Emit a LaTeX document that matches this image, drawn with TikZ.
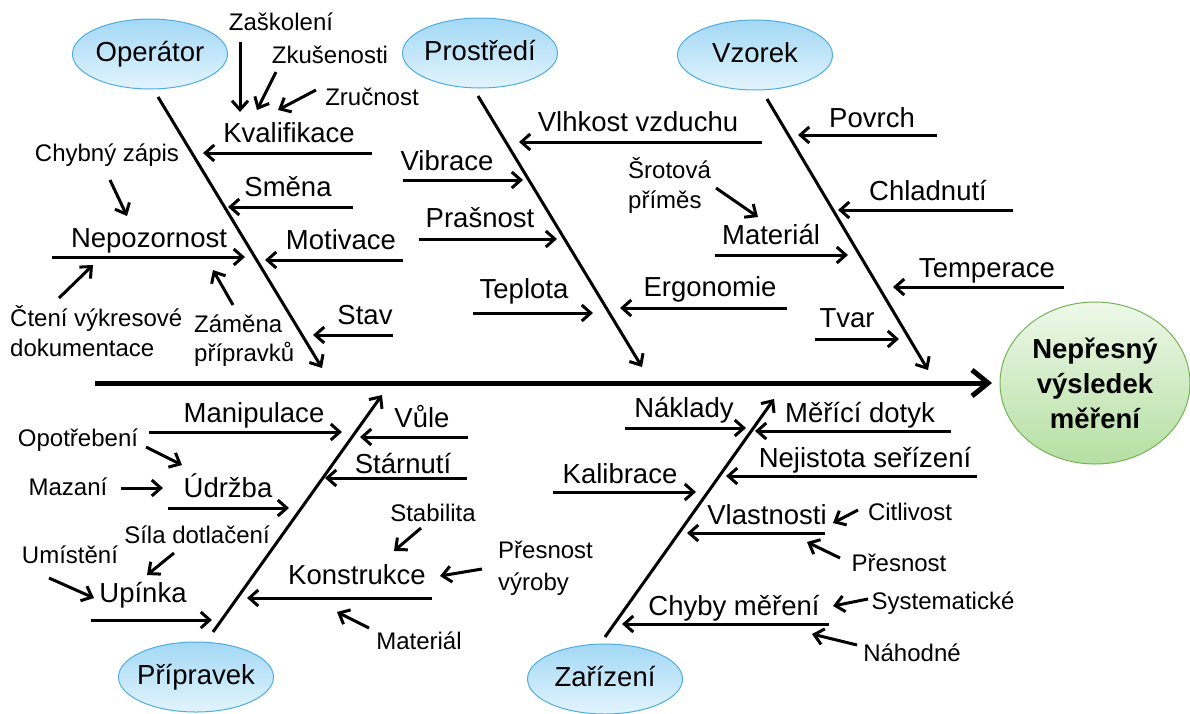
\documentclass[tikz,border=0pt]{standalone}
\usepackage{fontspec}
\setmainfont{Liberation Sans}
\usetikzlibrary{arrows.meta,shapes.geometric}
\definecolor{bluetop}{HTML}{A3D8F5}
\definecolor{bluebot}{HTML}{E2F4FD}
\definecolor{blueborder}{HTML}{4FAEE0}
\definecolor{greentop}{HTML}{EEF8E9}
\definecolor{greenbot}{HTML}{B5DFA2}
\definecolor{greenborder}{HTML}{74B456}
\begin{document}
\begin{tikzpicture}[x=1pt,y=-1pt,
  big/.style={font=\fontsize{27.5}{33}\selectfont, inner sep=0pt, text height=19.7pt, text depth=0pt},
  small/.style={font=\fontsize{24}{30}\selectfont, inner sep=0pt, text height=17.2pt, text depth=0pt},
  arr/.style={line width=3pt, -{Straight Barb[length=9pt,width=16pt]}},
  spine/.style={line width=5pt, -{Straight Barb[length=16pt,width=26pt]}},
  cat/.style={ellipse, draw=blueborder, line width=1pt, top color=bluetop, bottom color=bluebot,
    minimum width=155pt, minimum height=70pt, inner xsep=-30pt, inner ysep=0pt,
    font=\fontsize{27.5}{33}\selectfont, text height=19.7pt, text depth=4pt},
  effect/.style={ellipse, draw=greenborder, line width=1pt, top color=greentop, bottom color=greenbot,
    minimum width=190pt, minimum height=162pt, inner xsep=-40pt, inner ysep=-30pt,
    font=\fontsize{27.5}{35}\bfseries\selectfont, align=center}
]
\useasboundingbox (0,0) rectangle (1190,713);
\fill[white] (0,0) rectangle (1190,713);

% ---------- main spine and effect ----------
\coordinate (sp1) at (95,383);
\coordinate (sp2) at (992,383);
\draw[spine] (sp1) -- (sp2);
\node[effect] (eff) at (1095,383) {Nepřesný\\výsledek\\měření};

% ---------- Operator ----------
\node[cat] (oper) at (150,54) {Operátor};
\coordinate (ob1) at (158,97); \coordinate (ob2) at (322,368);
\draw[arr] (ob1) -- (ob2);

\node[big] (kval) at (289,133) {Kvalifikace};
\coordinate (kv1) at (372,153); \coordinate (kv2) at (203,153);
\draw[arr] (kv1) -- (kv2);
\node[small] (zask) at (281,22) {Zaškolení};
\coordinate (za1) at (240,42); \coordinate (za2) at (240,112);
\draw[arr] (za1) -- (za2);
\node[small] (zkus) at (330,55) {Zkušenosti};
\coordinate (zk1) at (276,72); \coordinate (zk2) at (257,110);
\draw[arr] (zk1) -- (zk2);
\node[small] (zruc) at (372,97) {Zručnost};
\coordinate (zr1) at (316,90); \coordinate (zr2) at (278,110);
\draw[arr] (zr1) -- (zr2);

\node[small] (chyb) at (107,153) {Chybný zápis};
\coordinate (ch1) at (110,180); \coordinate (ch2) at (127,216);
\draw[arr] (ch1) -- (ch2);
\node[big] (smena) at (288,187) {Směna};
\coordinate (sm1) at (353,207); \coordinate (sm2) at (228,207);
\draw[arr] (sm1) -- (sm2);
\node[big] (nepoz) at (149,238) {Nepozornost};
\coordinate (ne1) at (52,257); \coordinate (ne2) at (245,257);
\draw[arr] (ne1) -- (ne2);
\node[big] (motiv) at (341,240) {Motivace};
\coordinate (mo1) at (403,260); \coordinate (mo2) at (265,260);
\draw[arr] (mo1) -- (mo2);
\node[small, anchor=west] (cteni) at (10,318) {Čtení výkresové};
\node[small, anchor=west] (cteni2) at (10,348) {dokumentace};
\coordinate (ct1) at (59,298); \coordinate (ct2) at (93,265);
\draw[arr] (ct1) -- (ct2);
\node[small, anchor=west] (zamena) at (194,324) {Záměna};
\node[small, anchor=west] (zamena2) at (194,353) {přípravků};
\coordinate (zm1) at (233,305); \coordinate (zm2) at (213,270);
\draw[arr] (zm1) -- (zm2);
\node[big] (stav) at (365,315) {Stav};
\coordinate (st1) at (393,335); \coordinate (st2) at (313,335);
\draw[arr] (st1) -- (st2);

% ---------- Prostredi ----------
\node[cat] (prost) at (480,53) {Prostředí};
\coordinate (pb1) at (478,96); \coordinate (pb2) at (642,367);
\draw[arr] (pb1) -- (pb2);
\node[big] (vlhk) at (638,122) {Vlhkost vzduchu};
\coordinate (vl1) at (762,142); \coordinate (vl2) at (519,142);
\draw[arr] (vl1) -- (vl2);
\node[big] (vibr) at (447,161) {Vibrace};
\coordinate (vi1) at (403,180); \coordinate (vi2) at (523,180);
\draw[arr] (vi1) -- (vi2);
\node[big] (prasn) at (480,218) {Prašnost};
\coordinate (pr1) at (419,239); \coordinate (pr2) at (557,239);
\draw[arr] (pr1) -- (pr2);
\node[big] (tepl) at (524,289) {Teplota};
\coordinate (te1) at (473,313); \coordinate (te2) at (593,313);
\draw[arr] (te1) -- (te2);
\node[big] (ergo) at (710,287) {Ergonomie};
\coordinate (er1) at (787,308); \coordinate (er2) at (620,308);
\draw[arr] (er1) -- (er2);
\node[small, anchor=west] (srot) at (628,170) {Šrotová};
\node[small, anchor=west] (srot2) at (628,200) {příměs};
\coordinate (sr1) at (716,188); \coordinate (sr2) at (758,217);
\draw[arr] (sr1) -- (sr2);
\node[big] (mater) at (771,235) {Materiál};
\coordinate (ma1) at (715,255); \coordinate (ma2) at (848,255);
\draw[arr] (ma1) -- (ma2);

% ---------- Vzorek ----------
\node[cat] (vzor) at (755,55) {Vzorek};
\coordinate (vb1) at (767,99); \coordinate (vb2) at (928,370);
\draw[arr] (vb1) -- (vb2);
\node[big] (povr) at (872,118) {Povrch};
\coordinate (po1) at (937,135); \coordinate (po2) at (798,135);
\draw[arr] (po1) -- (po2);
\node[big] (chlad) at (928,191) {Chladnutí};
\coordinate (cl1) at (1013,210); \coordinate (cl2) at (838,210);
\draw[arr] (cl1) -- (cl2);
\node[big] (temp) at (987,268) {Temperace};
\coordinate (tp1) at (1064,287); \coordinate (tp2) at (893,287);
\draw[arr] (tp1) -- (tp2);
\node[big] (tvar) at (847,318) {Tvar};
\coordinate (tv1) at (815,339); \coordinate (tv2) at (899,339);
\draw[arr] (tv1) -- (tv2);

% ---------- Pripravek ----------
\node[cat] (prip) at (196,677) {Přípravek};
\coordinate (rb1) at (213,632); \coordinate (rb2) at (382,395);
\draw[arr] (rb1) -- (rb2);
\node[big] (manip) at (254,413) {Manipulace};
\coordinate (mn1) at (149,432); \coordinate (mn2) at (342,432);
\draw[arr] (mn1) -- (mn2);
\node[small] (opot) at (78,438) {Opotřebení};
\coordinate (op1) at (146,447); \coordinate (op2) at (182,465);
\draw[arr] (op1) -- (op2);
\node[small] (maz) at (68,487) {Mazaní};
\coordinate (mz1) at (121,488); \coordinate (mz2) at (163,488);
\draw[arr] (mz1) -- (mz2);
\node[big] (udrz) at (228,488) {Údržba};
\coordinate (ud1) at (168,508); \coordinate (ud2) at (289,508);
\draw[arr] (ud1) -- (ud2);
\node[small] (sila) at (197,535) {Síla dotlačení};
\coordinate (si1) at (174,553); \coordinate (si2) at (147,575);
\draw[arr] (si1) -- (si2);
\node[small] (umist) at (70,555) {Umístění};
\coordinate (um1) at (49,578); \coordinate (um2) at (94,598);
\draw[arr] (um1) -- (um2);
\node[big] (upin) at (143,593) {Upínka};
\coordinate (up1) at (91,620); \coordinate (up2) at (212,620);
\draw[arr] (up1) -- (up2);
\node[big] (vule) at (422,418) {Vůle};
\coordinate (vu1) at (468,437); \coordinate (vu2) at (360,437);
\draw[arr] (vu1) -- (vu2);
\node[big] (starn) at (403,464) {Stárnutí};
\coordinate (sa1) at (467,478); \coordinate (sa2) at (325,478);
\draw[arr] (sa1) -- (sa2);
\node[small] (stab) at (433,513) {Stabilita};
\coordinate (sb1) at (421,528); \coordinate (sb2) at (394,551);
\draw[arr] (sb1) -- (sb2);
\node[big] (konst) at (357,575) {Konstrukce};
\coordinate (ko1) at (432,598); \coordinate (ko2) at (247,598);
\draw[arr] (ko1) -- (ko2);
\node[small, anchor=west] (presv) at (498,550) {Přesnost};
\node[small, anchor=west] (presv2) at (498,582) {výroby};
\coordinate (pv1) at (482,569); \coordinate (pv2) at (440,576);
\draw[arr] (pv1) -- (pv2);
\node[small] (mat2) at (419,641) {Materiál};
\coordinate (mb1) at (369,628); \coordinate (mb2) at (337,612);
\draw[arr] (mb1) -- (mb2);

% ---------- Zarizeni ----------
\node[cat] (zar) at (605,679) {Zařízení};
\coordinate (zb1) at (605,637); \coordinate (zb2) at (774,399);
\draw[arr] (zb1) -- (zb2);
\node[big] (nakl) at (684,408) {Náklady};
\coordinate (nk1) at (625,428); \coordinate (nk2) at (746,428);
\draw[arr] (nk1) -- (nk2);
\node[big] (mdot) at (860,413) {Měřící dotyk};
\coordinate (md1) at (951,431); \coordinate (md2) at (755,431);
\draw[arr] (md1) -- (md2);
\node[big] (nejis) at (865,458) {Nejistota seřízení};
\coordinate (nj1) at (977,476); \coordinate (nj2) at (726,476);
\draw[arr] (nj1) -- (nj2);
\node[big] (kalib) at (620,474) {Kalibrace};
\coordinate (ka1) at (553,492); \coordinate (ka2) at (696,492);
\draw[arr] (ka1) -- (ka2);
\node[big] (vlast) at (767,515) {Vlastnosti};
\coordinate (vs1) at (825,533); \coordinate (vs2) at (687,533);
\draw[arr] (vs1) -- (vs2);
\node[small] (citl) at (910,512) {Citlivost};
\coordinate (ci1) at (858,510); \coordinate (ci2) at (833,523);
\draw[arr] (ci1) -- (ci2);
\node[small] (presn) at (899,563) {Přesnost};
\coordinate (ps1) at (840,558); \coordinate (ps2) at (807,542);
\draw[arr] (ps1) -- (ps2);
\node[big] (chmer) at (734,606) {Chyby měření};
\coordinate (cm1) at (829,624); \coordinate (cm2) at (622,624);
\draw[arr] (cm1) -- (cm2);
\node[small] (syst) at (943,601) {Systematické};
\coordinate (sy1) at (868,599); \coordinate (sy2) at (833,606);
\draw[arr] (sy1) -- (sy2);
\node[small] (nahod) at (912,653) {Náhodné};
\coordinate (nh1) at (857,645); \coordinate (nh2) at (812,634);
\draw[arr] (nh1) -- (nh2);
\end{tikzpicture}
\end{document}
